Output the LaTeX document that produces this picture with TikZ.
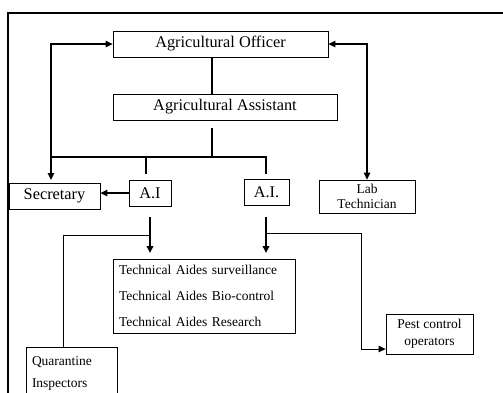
\documentclass[tikz,border=0pt]{standalone}
\usepackage{fontspec}
\setmainfont{Liberation Serif}
\usetikzlibrary{arrows.meta,calc}
\begin{document}
\begin{tikzpicture}[x=1pt,y=-1pt,
  box/.style={draw, line width=0.8pt, inner sep=0pt, minimum height=26pt, font=\fontsize{16.3}{18}\selectfont},
  smallbox/.style={draw, line width=0.8pt, inner sep=0pt, align=center, font=\fontsize{13.5}{15}\selectfont},
  thickline/.style={line width=1.8pt},
  conn/.style={line width=1.3pt},
  thinconn/.style={line width=1pt},
  tipend/.style={-{Triangle[length=7pt,width=6.5pt]}},
  bothtips/.style={{Triangle[length=7pt,width=6.5pt]}-{Triangle[length=7pt,width=6.5pt]}},
  ]
\clip (0,0) rectangle (503,392);
% frame
\draw[line width=2pt] (8,400) -- (8,13) -- (510,13);

% nodes
\node[box, minimum width=215pt] (AO) at (220.5,44) {Agricultural Officer};
\node[box, minimum width=224pt] (AA) at (225,107) {Agricultural Assistant};
\node[box, minimum width=91pt] (Sec) at (54.5,196) {Secretary};
\node[box, minimum width=42pt] (AI1) at (150,193) {A.I};
\node[box, minimum width=45pt] (AI2) at (266.5,192) {A.I.};
\node[smallbox, minimum width=96pt, minimum height=33pt] (Lab) at (367,196.5) {Lab\\Technician};
\node[draw, line width=0.8pt, inner xsep=6pt, inner ysep=0pt, minimum width=182pt, minimum height=74pt,
      text width=170pt, align=left, font=\fontsize{13.5}{26}\selectfont] (Tech) at (204,296)
      {Technical Aides surveillance\\Technical Aides Bio-control\\Technical Aides Research};
\node[smallbox, minimum width=87pt, minimum height=40pt, font=\fontsize{13.5}{17}\selectfont] (Pest) at (429.5,334) {Pest control\\operators};
\node[draw, line width=0.8pt, inner xsep=6pt, inner ysep=0pt, minimum width=91pt, minimum height=52pt,
      text width=79pt, align=left, font=\fontsize{13.5}{22}\selectfont] (Quar) at (71.5,373) {Quarantine\\Inspectors};

% coordinates
\coordinate (aaout) at (212,128);
\coordinate (busL) at (51,157);
\coordinate (busM) at (212,157);
\coordinate (busA) at (146,157);
\coordinate (busB) at (266,157);
\coordinate (ai1in) at (146,174);
\coordinate (ai2in) at (266,174);
\coordinate (secin) at (51,180);
\coordinate (ai1out) at (150,217);
\coordinate (techin) at (150,253);
\coordinate (qsplit) at (150,235);
\coordinate (ai2out) at (266,217);
\coordinate (techin2) at (266,253);
\coordinate (psplit) at (266,233);
\coordinate (pturn) at (361,349);

% connectors
\draw[thickline] (AO.south -| busM) -- (AA.north -| busM);
\draw[thickline] (aaout) -- (busM);
\draw[thickline] (busL) -- (busB) -- (ai2in);
\draw[thickline] (busA) -- (ai1in);
\draw[conn, bothtips] (AO.west) -| (secin);
\draw[conn, bothtips] (AO.east) -| (Lab.north);
\draw[conn, tipend] (AI1.west) -- (Sec.east |- AI1.west);
\draw[thickline, tipend] (ai1out) -- (techin);
\draw[thinconn] (qsplit) -| (Quar.north -| 63,0);
\draw[thickline, tipend] (ai2out) -- (techin2);
\draw[thinconn, tipend] (psplit) -| (pturn) -- (Pest.west |- pturn);
\end{tikzpicture}
\end{document}
